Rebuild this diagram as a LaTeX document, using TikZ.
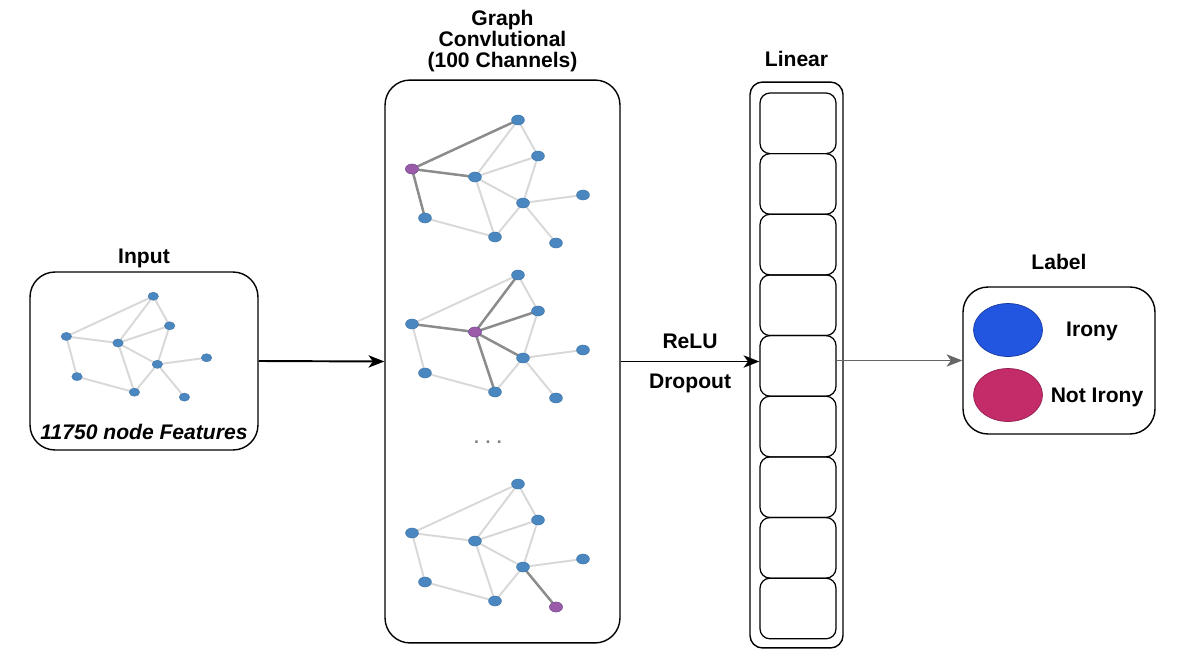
\documentclass[tikz,border=0pt]{standalone}
\usepackage{fontspec}
\setmainfont{Liberation Sans}
\usetikzlibrary{arrows.meta,positioning,shapes.geometric,backgrounds}

\definecolor{dotblue}{HTML}{4A87C0}
\definecolor{dotpurple}{HTML}{9B5BA9}
\definecolor{edgegray}{HTML}{D8D8D8}
\definecolor{hotgray}{HTML}{8C8C8C}
\definecolor{ironyblue}{HTML}{2256E0}
\definecolor{notirony}{HTML}{C42B69}

\tikzset{
	box/.style={draw, line width=0.8pt, rounded corners=0.5cm},
	cell/.style={draw, line width=0.7pt, rounded corners=0.2cm, minimum width=1.52cm, minimum height=1.213cm},
	title/.style={font=\bfseries\fontsize{12}{12}\selectfont, align=center, inner sep=0pt, text depth=0pt},
	dot/.style={ellipse, fill=dotblue, draw=dotblue!85!black, line width=0.2pt, inner sep=0pt},
	hotdot/.style={dot, fill=dotpurple, draw=dotpurple!85!black},
	edge/.style={draw=edgegray, line width=1.1pt},
	hot edge/.style={draw=hotgray, line width=1.4pt},
	flow/.style={line width=1.1pt, -{Stealth[length=9pt, width=7pt, inset=2.5pt]}}
}

% small graph: name prefix, centre, scale, dot width
\newcommand{\convgraph}[4]{%
	\begin{scope}[shift={#2}, scale=#3]
		\foreach \n/\dx/\dy in {a/43/-57, b/63/-21, c/-63/-8, d/0/0, e/48/26,
				f/108/18, g/-50/41, h/20/60, i/81/66}
			\node[dot, minimum width=#4, minimum height=0.78*#4] (#1\n) at (\dx,\dy) {};
	\end{scope}
	\begin{scope}[on background layer]
		\foreach \u/\v in {a/b, a/c, a/d, b/d, b/e, c/d, c/g, d/e, d/h, e/f, e/h, e/i, g/h}
			\draw[edge] (#1\u.center) -- (#1\v.center);
	\end{scope}
}

\begin{document}
\begin{tikzpicture}[x=0.02cm, y=-0.02cm]
	\useasboundingbox (0,0) rectangle (1182,672);

	% input
	\node[box, minimum width=4.56cm, minimum height=3.56cm] (inbox) at (144,361) {};
	\node[title, above=0.15cm of inbox] (intitle) {Input};
	\convgraph{in}{(118,343)}{0.82}{0.21cm}
	\node[title, font=\bfseries\itshape\fontsize{12}{12}\selectfont] (features) at (144,432) {11750 node Features};

	% graph convolution
	\node[box, minimum width=4.7cm, minimum height=11.26cm] (gcnbox) at (502.5,361.5) {};
	\node[title, above=0.23cm of gcnbox] (gcntitle) {Graph\\Convlutional\\(100 Channels)};
	\convgraph{ga}{(475,177)}{1}{0.26cm}
	\convgraph{gb}{(475,332)}{1}{0.26cm}
	\convgraph{gc}{(475,541)}{1}{0.26cm}
	\node[hotdot, minimum width=0.26cm, minimum height=0.2cm] (gac) at (gac) {};
	\node[hotdot, minimum width=0.26cm, minimum height=0.2cm] (gbd) at (gbd) {};
	\node[hotdot, minimum width=0.26cm, minimum height=0.2cm] (gci) at (gci) {};
	\begin{scope}[on background layer]
		\foreach \v in {a,d,g}
			\draw[hot edge] (gac.center) -- (ga\v.center);
		\foreach \v in {a,b,c,e,h}
			\draw[hot edge] (gbd.center) -- (gb\v.center);
		\draw[hot edge] (gce.center) -- (gci.center);
	\end{scope}
	\node[title, font=\bfseries\fontsize{10}{10}\selectfont, text=gray] (more) at (488,442) {. . .};

	% linear layer
	\node[draw, line width=0.8pt, rounded corners=0.25cm, minimum width=1.86cm, minimum height=11.32cm] (linbox) at (796.5,365) {};
	\node[title, above=0.29cm of linbox] (lintitle) {Linear};
	\foreach \k in {1,...,9}
		\node[cell] (cell\k) at (798,{93+30.3+(\k-1)*60.65}) {};

	% label
	\node[box, minimum width=3.84cm, minimum height=2.94cm] (labbox) at (1059,360.5) {};
	\node[title, above=0.33cm of labbox] (labtitle) {Label};
	\node[ellipse, fill=ironyblue, draw=ironyblue!70!black, line width=0.4pt, minimum width=1.38cm, minimum height=1.06cm] (irony) at (1008,330) {};
	\node[ellipse, fill=notirony, draw=notirony!75!black, line width=0.4pt, minimum width=1.38cm, minimum height=1.06cm] (notir) at (1008,395) {};
	\node[title] (ironytext) at (1092,329) {Irony};
	\node[title] (notirtext) at (1097,395) {Not Irony};

	% connections
	\draw[flow] (inbox.east) -- (gcnbox.west);
	\draw[flow] (gcnbox.east) -- (gcnbox.east -| cell5.west)
		node[title, midway, above=0.25cm] {ReLU}
		node[title, midway, below=0.24cm] {Dropout};
	\draw[flow, draw=gray!80!black, fill=gray!80!black, line width=0.9pt] (labbox.west -| cell5.east) -- (labbox.west);
\end{tikzpicture}
\end{document}
